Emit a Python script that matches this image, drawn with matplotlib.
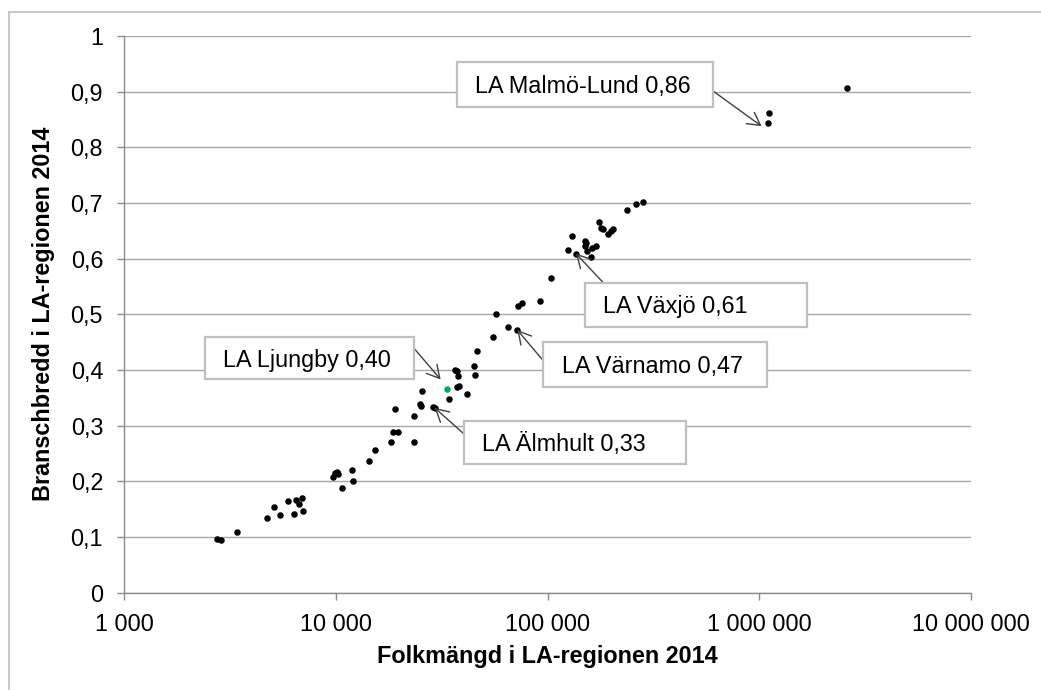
import matplotlib
matplotlib.use('Agg')
import matplotlib.pyplot as plt
from matplotlib.patches import Rectangle
from matplotlib.lines import Line2D
from matplotlib.ticker import NullLocator, FixedLocator, FixedFormatter

plt.rcParams['font.family'] = ['Liberation Sans', 'DejaVu Sans']

# ---------------- data ----------------
population = [2733, 2854, 3407, 4737, 5079, 5457, 5952, 6312, 6493, 6686, 6887, 6962,
              9710, 9893, 10080, 10190, 10640, 11870, 11990, 14370, 15290, 18250, 18530,
              19560, 19000, 23360, 23360, 24940, 25120, 25400, 28820, 29260, 34290,
              36480, 37170, 37820, 37410, 37980, 41580, 44870, 45360, 46340, 54990,
              57000, 65160, 71850, 72630, 75380, 92260, 104000, 124700, 129900, 136100,
              150100, 151700, 150600, 153900, 161400, 159700, 169100, 175300, 178600,
              181900, 192000, 199100, 202800, 236900, 261300, 281000, 1113000, 1102000,
              2602000]
breadth = [0.0965, 0.0941, 0.1085, 0.1342, 0.1539, 0.1401, 0.1642, 0.1419, 0.166, 0.1599,
           0.1701, 0.1462, 0.2084, 0.2145, 0.2174, 0.2127, 0.1875, 0.2199, 0.2001, 0.236,
           0.2558, 0.2702, 0.2892, 0.2892, 0.3294, 0.3174, 0.2702, 0.339, 0.3354, 0.3623,
           0.3336, 0.3318, 0.3479, 0.400, 0.3988, 0.3893, 0.369, 0.3713, 0.3575, 0.4072,
           0.3911, 0.4336, 0.4593, 0.5012, 0.4773, 0.4719, 0.5155, 0.5198, 0.5234, 0.5653,
           0.6156, 0.6413, 0.6089, 0.6318, 0.6276, 0.6233, 0.6143, 0.6192, 0.603, 0.6228,
           0.6654, 0.6556, 0.6533, 0.6438, 0.6497, 0.6533, 0.6869, 0.6988, 0.7013, 0.8611,
           0.8432, 0.9066]
highlight_population = [33440]
highlight_breadth = [0.3659]

x_ticks = [1e3, 1e4, 1e5, 1e6, 1e7]
x_tick_labels = ['1 000', '10 000', '100 000', '1 000 000', '10 000 000']
y_ticks = [0, 0.1, 0.2, 0.3, 0.4, 0.5, 0.6, 0.7, 0.8, 0.9, 1.0]
y_tick_labels = ['0', '0,1', '0,2', '0,3', '0,4', '0,5', '0,6', '0,7', '0,8', '0,9', '1']

labels = ['LA Malmö-Lund 0,86', 'LA Växjö 0,61', 'LA Värnamo 0,47',
          'LA Ljungby 0,40', 'LA Älmhult 0,33']
label_target_x = [1025000, 136100, 71850, 31230, 29260]
label_target_y = [0.838, 0.609, 0.472, 0.383, 0.332]

x_title = 'Folkmängd i LA-regionen 2014'
y_title = 'Branschbredd i LA-regionen 2014'

# ---------------- layout (pixels) ----------------
W, H = 1041, 690
AX_L, AX_R, AX_T, AX_B = 124.3, 971.0, 36.0, 592.7
# label boxes: left, top, right, bottom ; arrow start x, y
boxes = [(456.7, 62.3, 713.3, 107.3, 714.0, 91.7),
         (585.0, 282.7, 807.3, 326.7, 603.3, 282.7),
         (543.3, 342.3, 766.7, 386.7, 543.3, 360.7),
         (205.0, 337.3, 414.0, 379.3, 414.0, 348.3),
         (464.0, 420.7, 686.0, 464.3, 464.0, 434.0)]

FS = 16.8
GRID = '#A6A6A6'
AXC = '#8C8C8C'

fig = plt.figure(figsize=(W / 100, H / 100), dpi=100)
ax = fig.add_axes([AX_L / W, 1 - AX_B / H, (AX_R - AX_L) / W, (AX_B - AX_T) / H])
ax.set_xscale('log')
ax.set_xlim(1e3, 1e7)
ax.set_ylim(0, 1)

ax.scatter(population, breadth, s=22, c='black', linewidths=0, zorder=3)
ax.scatter(highlight_population, highlight_breadth, s=22, c='#00B050', linewidths=0, zorder=4)

ax.xaxis.set_major_locator(FixedLocator(x_ticks))
ax.xaxis.set_major_formatter(FixedFormatter(x_tick_labels))
ax.xaxis.set_minor_locator(NullLocator())
ax.yaxis.set_major_locator(FixedLocator(y_ticks))
ax.yaxis.set_major_formatter(FixedFormatter(y_tick_labels))

ax.yaxis.grid(True, color=GRID, lw=1.0)
ax.set_axisbelow(True)
for s in ['top', 'right']:
    ax.spines[s].set_visible(False)
for s in ['left', 'bottom']:
    ax.spines[s].set_color(AXC)
    ax.spines[s].set_linewidth(1.0)
ax.tick_params(axis='both', direction='out', length=4.8, width=1.0, color=AXC,
               labelsize=FS, labelcolor='black')
ax.tick_params(axis='x', pad=9.5)
ax.tick_params(axis='y', pad=10.5)

fig.text(547 / W, 1 - 663.3 / H, x_title, ha='center', va='baseline',
         fontsize=FS, fontweight='bold')
fig.text(44 / W, 1 - 314 / H, y_title, ha='center', va='center', rotation=90,
         fontsize=FS, fontweight='bold')

# annotations
for txt, tx, ty, (l, t, r, b, sx, sy) in zip(labels, label_target_x, label_target_y, boxes):
    ax.annotate('', xy=(tx, ty), xycoords='data', xytext=(sx, H - sy),
                textcoords='figure pixels', annotation_clip=False,
                arrowprops=dict(arrowstyle='->,head_length=0.45,head_width=0.25',
                                mutation_scale=20, color='#404040', lw=1.0,
                                shrinkA=0, shrinkB=0), zorder=6)
    fig.add_artist(Rectangle((l / W, 1 - b / H), (r - l) / W, (b - t) / H,
                             transform=fig.transFigure, facecolor='white',
                             edgecolor='#BFBFBF', lw=1.6, zorder=5))
    cy = (t + b) / 2
    fig.text((l + 18.3) / W, 1 - (cy + 8.3) / H, txt, ha='left', va='baseline',
             fontsize=FS, zorder=7)

# outer chart border (top & left visible)
fig.add_artist(Line2D([9 / W, 9 / W], [0, 1 - 12 / H], transform=fig.transFigure,
                      color='#BFBFBF', lw=1.2))
fig.add_artist(Line2D([9 / W, 1], [1 - 12 / H, 1 - 12 / H], transform=fig.transFigure,
                      color='#BFBFBF', lw=1.2))

fig.savefig('out.png', dpi=100, facecolor='white')
